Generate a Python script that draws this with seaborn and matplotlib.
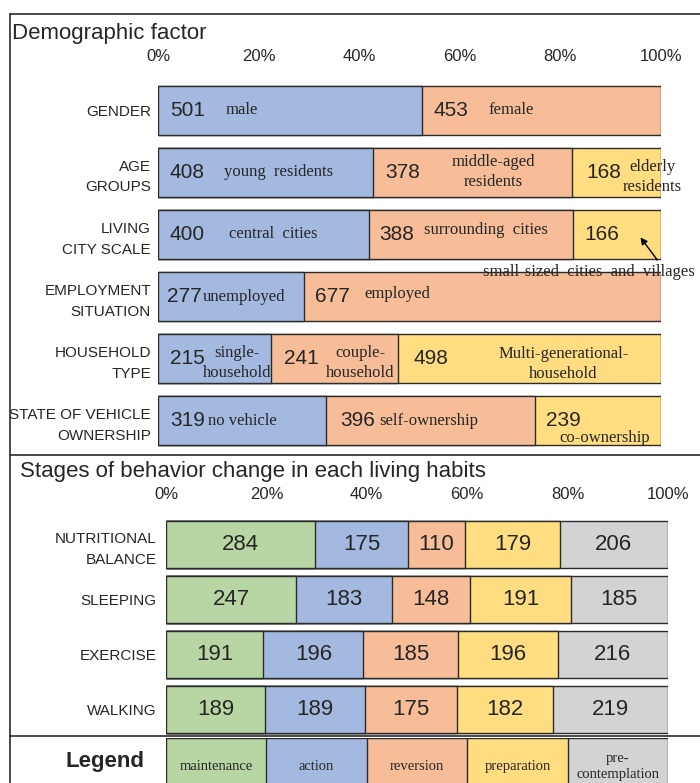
import matplotlib
matplotlib.use("Agg")
import matplotlib.pyplot as plt
from matplotlib.lines import Line2D
from matplotlib.transforms import offset_copy
import seaborn as sns
import pandas as pd
import numpy as np

# ---- data ----
demo_rows = ["GENDER", "AGE\nGROUPS", "LIVING\nCITY SCALE", "EMPLOYMENT\nSITUATION",
             "HOUSEHOLD\nTYPE", "STATE OF VEHICLE\nOWNERSHIP"]
gender = [501, 453]
age_groups = [408, 378, 168]
city_scale = [400, 388, 166]
employment = [277, 677]
household = [215, 241, 498]
vehicle = [319, 396, 239]
demo_names = [
    ["male", "female"],
    ["young  residents", "middle-aged\nresidents", "elderly\nresidents"],
    ["central  cities", "surrounding  cities", ""],
    ["unemployed", "employed"],
    ["single-\nhousehold", "couple-\nhousehold", "Multi-generational-\nhousehold"],
    ["no vehicle", "self-ownership", "co-ownership"],
]
small_city_note = "small-sized  cities  and  villages"

habit_rows = ["NUTRITIONAL\nBALANCE", "SLEEPING", "EXERCISE", "WALKING"]
stages = ["maintenance", "action", "reversion", "preparation", "pre-\ncontemplation"]
maintenance = [284, 247, 191, 189]
action = [175, 183, 196, 189]
reversion = [110, 148, 185, 175]
preparation = [179, 191, 196, 182]
precontemplation = [206, 185, 216, 219]

ticks = [0, 20, 40, 60, 80, 100]

# ---- style ----
sns.set_style("white")
plt.rcParams["font.family"] = ["Liberation Sans", "DejaVu Sans"]
SERIF = "Liberation Serif"
colors = ["#B8D6A3", "#A4B9E0", "#F6BD98", "#FFDD80", "#D3D3D3"]
demo_colors = colors[1:4]
EDGE = "#2b2b2b"

W, H = 700, 783
fig = plt.figure(figsize=(7.0, 7.83), dpi=100)


def box(x0, y0, x1, y1):
    # pixel box (top-left origin) -> figure fraction rect
    return [x0 / W, 1 - y1 / H, (x1 - x0) / W, (y1 - y0) / H]


def stacked(ax, rows, counts, cols, width):
    n = max(len(c) for c in counts)
    pct = np.full((len(rows), n), np.nan)
    for i, c in enumerate(counts):
        c = np.array(c, dtype=float)
        pct[i, :len(c)] = c / c.sum() * 100
    cum = np.nancumsum(pct, axis=1)
    cum[np.isnan(pct)] = np.nan
    for k in reversed(range(n)):
        df = pd.DataFrame({"row": rows, "cum": cum[:, k]})
        sns.barplot(data=df, x="cum", y="row", order=rows, orient="h",
                    color=cols[k], saturation=1, width=width, errorbar=None,
                    edgecolor=EDGE, linewidth=1, ax=ax)
    return pct, cum


def style_axis(ax, pad_y, labelsize_y):
    ax.set_xlim(0, 100)
    ax.set(xlabel="", ylabel="")
    ax.xaxis.tick_top()
    ax.set_xticks(ticks)
    ax.set_xticklabels([f"{t}%" for t in ticks])
    ax.tick_params(axis="x", length=0, pad=11, labelsize=12)
    ax.tick_params(axis="y", length=0, pad=pad_y, labelsize=labelsize_y)
    for lab in ax.get_yticklabels():
        lab.set_linespacing(1.6)
    sns.despine(ax=ax, left=True, bottom=True, top=True, right=True)


def at(ax, dx, dy):
    # offset in pixels from a data point (dy measured downward)
    return offset_copy(ax.transData, fig=fig, x=dx, y=-dy, units="dots")


# ---- top panel: demographic factors ----
ax1 = fig.add_axes(box(158, 79, 661, 452))
demo_counts = [gender, age_groups, city_scale, employment, household, vehicle]
pct1, cum1 = stacked(ax1, demo_rows, demo_counts, demo_colors, 0.79)
style_axis(ax1, 5, 11)

num_dx = [[12, 11], [12, 12, 14], [12, 10, 11], [9, 11], [12, 13, 15], [12, 14, 11]]
name_pos = [
    [(68, 0, "left"), (66, 0, "left")],
    [(66, 0, "left"), (120, 0, "center"), (80, 5, "center")],
    [(71, 0, "left"), (55, -4, "left"), None],
    [(45, 0, "left"), (60, -3, "left")],
    [(79, 4, "center"), (89, 4, "center"), (165, 5, "center")],
    [(50, 0, "left"), (53, 0, "left"), (24, 17, "left")],
]
for i, counts in enumerate(demo_counts):
    for k, val in enumerate(counts):
        left = cum1[i, k] - pct1[i, k]
        ax1.text(left, i, str(val), transform=at(ax1, num_dx[i][k], 0),
                 ha="left", va="center", fontsize=15)
        pos = name_pos[i][k]
        if pos is not None and demo_names[i][k]:
            dx, dy, ha = pos
            ax1.text(left, i, demo_names[i][k], transform=at(ax1, dx, dy),
                     ha=ha, va="center", fontsize=12, family=SERIF,
                     linespacing=1.35)

# arrow note for the small-sized cities segment
left3 = cum1[2, 2] - pct1[2, 2]
ax1.annotate(small_city_note, xy=(left3, 2), xycoords=at(ax1, 67, 3),
             xytext=(left3, 2), textcoords=at(ax1, 121, 38),
             ha="right", va="center", fontsize=12, family=SERIF,
             annotation_clip=False,
             arrowprops=dict(arrowstyle="-|>", color="black", lw=1,
                             relpos=(0.84, 1.0), shrinkA=1, shrinkB=0,
                             mutation_scale=10))

# ---- bottom panel: stages of behavior change ----
ax2 = fig.add_axes(box(166, 517, 668, 737))
habit_counts = [list(v) for v in zip(maintenance, action, reversion,
                                     preparation, precontemplation)]
pct2, cum2 = stacked(ax2, habit_rows, habit_counts, colors, 0.84)
style_axis(ax2, 7, 11)
for i, counts in enumerate(habit_counts):
    for k, val in enumerate(counts):
        ax2.text(cum2[i, k] - pct2[i, k] / 2, i, str(val), ha="center",
                 va="center", fontsize=16)

# ---- legend row ----
ax3 = fig.add_axes(box(166, 738, 668, 795))
legend_df = pd.DataFrame({"row": ["legend"] * len(stages), "stage": stages,
                          "val": [100 / len(stages)] * len(stages)})
legend_cum = legend_df["val"].cumsum()
for k in reversed(range(len(stages))):
    sns.barplot(x=[legend_cum[k]], y=["legend"], orient="h", color=colors[k],
                saturation=1, width=1.0, errorbar=None, edgecolor=EDGE,
                linewidth=1, ax=ax3)
for k, name in enumerate(stages):
    ax3.text(legend_cum[k] - legend_df["val"][k] / 2, 0, name, ha="center",
             va="center", fontsize=10.5, family=SERIF, linespacing=1.3)
ax3.set_xlim(0, 100)
ax3.set_ylim(0.5, -0.5)
ax3.axis("off")

# ---- titles and frame ----
fig.text(12 / W, 1 - 33 / H, "Demographic factor", fontsize=16, va="center")
fig.text(20 / W, 1 - 471 / H, "Stages of behavior change in each living habits",
         fontsize=16, va="center")
fig.text(105 / W, 1 - 761 / H, "Legend", fontsize=16, fontweight="bold",
         ha="center", va="center")

for (x0, y0, x1, y1) in [(10, 14, 700, 14), (10, 14, 10, 783),
                         (10, 455, 700, 455), (10, 736, 700, 736)]:
    fig.add_artist(Line2D([x0 / W, x1 / W], [1 - y0 / H, 1 - y1 / H],
                          transform=fig.transFigure, color=EDGE, lw=1.2))

fig.savefig("out.png", dpi=100)
